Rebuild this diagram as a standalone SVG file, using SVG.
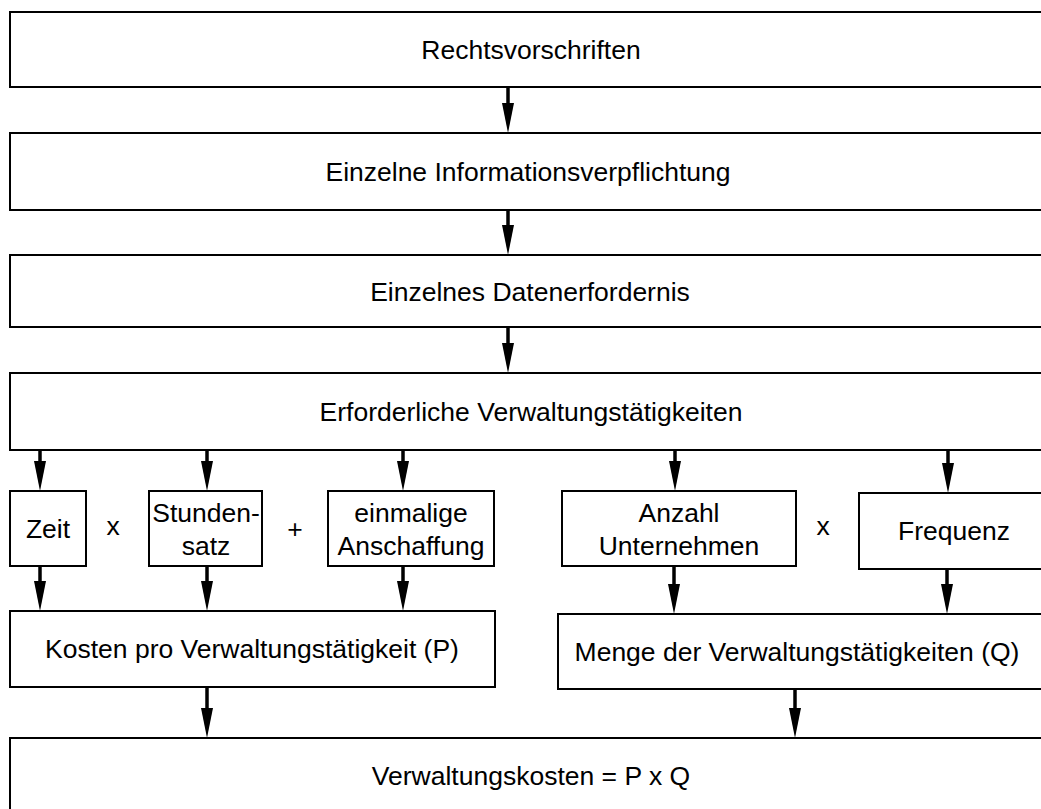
<svg xmlns="http://www.w3.org/2000/svg" width="1041" height="809" viewBox="0 0 1041 809">
<style>
.box{fill:#fff;stroke:#000;stroke-width:2}
.t{font-family:"Liberation Sans",Arial,sans-serif;font-size:26.5px;fill:#000;text-anchor:middle}
.c{stroke:#000;stroke-width:3.5;fill:none;marker-end:url(#ah)}
</style>
<defs>
<marker id="ah" viewBox="0 0 30 12" markerWidth="30" markerHeight="12" refX="8" refY="6" orient="auto" markerUnits="userSpaceOnUse">
<path d="M0,0 L30,6 L0,12 z" fill="#000"/>
</marker>
</defs>
<rect width="1041" height="809" fill="#fff"/>
<g id="n1"><rect class="box" x="10" y="12" width="1045" height="75"/><text class="t" x="531" y="59">Rechtsvorschriften</text></g>
<g id="n2"><rect class="box" x="10" y="133" width="1045" height="77"/><text class="t" x="528" y="180.5">Einzelne Informationsverpflichtung</text></g>
<g id="n3"><rect class="box" x="10" y="255" width="1045" height="72"/><text class="t" x="530" y="300.5">Einzelnes Datenerfordernis</text></g>
<g id="n4"><rect class="box" x="10" y="373" width="1045" height="77"/><text class="t" x="531" y="421">Erforderliche Verwaltungstätigkeiten</text></g>
<g id="zeit"><rect class="box" x="10" y="491" width="76" height="75"/><text class="t" x="48" y="538">Zeit</text></g>
<g id="stundensatz"><rect class="box" x="149" y="491" width="113" height="75"/><text class="t" x="206" y="522">Stunden-</text><text class="t" x="206" y="555">satz</text></g>
<g id="einmalig"><rect class="box" x="328" y="491" width="166" height="75"/><text class="t" x="411" y="522">einmalige</text><text class="t" x="411" y="555">Anschaffung</text></g>
<g id="anzahl"><rect class="box" x="562" y="491" width="234" height="75"/><text class="t" x="679" y="522">Anzahl</text><text class="t" x="679" y="555">Unternehmen</text></g>
<g id="frequenz"><rect class="box" x="859" y="493" width="196" height="76"/><text class="t" x="954" y="540">Frequenz</text></g>
<g id="ops"><text class="t" x="113" y="535">x</text><text class="t" x="295" y="538">+</text><text class="t" x="823" y="535">x</text></g>
<g id="kosten"><rect class="box" x="10" y="611" width="485" height="76"/><text class="t" x="252" y="658">Kosten pro Verwaltungstätigkeit (P)</text></g>
<g id="menge"><rect class="box" x="558" y="614" width="497" height="75"/><text class="t" x="797" y="661">Menge der Verwaltungstätigkeiten (Q)</text></g>
<g id="gesamt"><rect class="box" x="10" y="738" width="1045" height="85"/><text class="t" x="531" y="785">Verwaltungskosten = P x Q</text></g>
<g id="connectors">
<line class="c" x1="508" y1="87" x2="508" y2="111"/>
<line class="c" x1="508" y1="210" x2="508" y2="233"/>
<line class="c" x1="508" y1="327" x2="508" y2="351"/>
<line class="c" x1="40" y1="450" x2="40" y2="469"/>
<line class="c" x1="207" y1="450" x2="207" y2="469"/>
<line class="c" x1="403" y1="450" x2="403" y2="469"/>
<line class="c" x1="675" y1="450" x2="675" y2="469"/>
<line class="c" x1="948" y1="450" x2="948" y2="471"/>
<line class="c" x1="40" y1="566" x2="40" y2="589"/>
<line class="c" x1="207" y1="566" x2="207" y2="589"/>
<line class="c" x1="403" y1="566" x2="403" y2="589"/>
<line class="c" x1="674" y1="566" x2="674" y2="592"/>
<line class="c" x1="947" y1="569" x2="947" y2="592"/>
<line class="c" x1="207" y1="687" x2="207" y2="716"/>
<line class="c" x1="795" y1="689" x2="795" y2="716"/>
</g>
</svg>
